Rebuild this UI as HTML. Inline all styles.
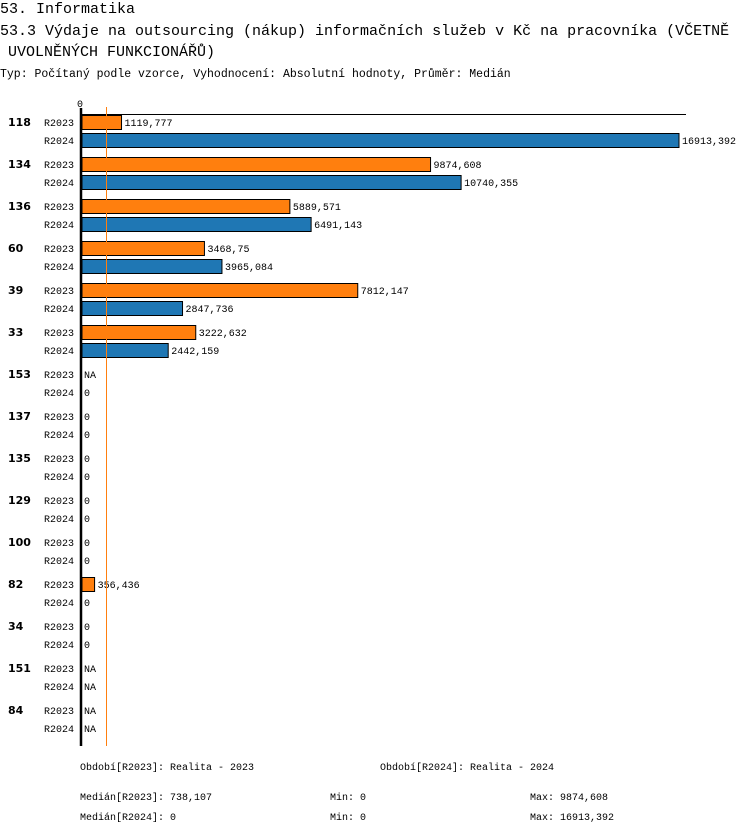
<!DOCTYPE html>
<html><head><meta charset="utf-8"><style>
body{margin:0;background:#fff;width:750px;height:834px;overflow:hidden}
svg text{font-family:"Liberation Mono","DejaVu Sans Mono",monospace;fill:#000}
</style></head><body>
<svg id="s" width="750" height="834" xmlns="http://www.w3.org/2000/svg">
<text x="0" y="13" font-size="15">53. Informatika</text>
<text x="0" y="35" font-size="15">53.3 Výdaje na outsourcing (nákup) informačních služeb v Kč na pracovníka (VČETNĚ</text>
<text x="8" y="56" font-size="15"> UVOLNĚNÝCH FUNKCIONÁŘŮ)</text>
<text x="0" y="77" font-size="11.5">Typ: Počítaný podle vzorce, Vyhodnocení: Absolutní hodnoty, Průměr: Medián</text>
<text x="77" y="107" font-size="10">0</text>
<line x1="81" y1="114.5" x2="686" y2="114.5" stroke="#000" stroke-width="1"/>
<g id="bars"></g>
<line x1="106.5" y1="107" x2="106.5" y2="746" stroke="#ff7f0e" stroke-width="1"/>
<line x1="81" y1="108" x2="81" y2="746" stroke="#000" stroke-width="2.5"/>
<text x="80" y="770" font-size="10">Období[R2023]: Realita - 2023</text>
<text x="380" y="770" font-size="10">Období[R2024]: Realita - 2024</text>
<text x="80" y="800" font-size="10">Medián[R2023]: 738,107</text>
<text x="330" y="800" font-size="10">Min: 0</text>
<text x="530" y="800" font-size="10">Max: 9874,608</text>
<text x="80" y="820" font-size="10">Medián[R2024]: 0</text>
<text x="330" y="820" font-size="10">Min: 0</text>
<text x="530" y="820" font-size="10">Max: 16913,392</text>
</svg>
<script>
var d=[["118",1119.777,16913.392],["134",9874.608,10740.355],["136",5889.571,6491.143],["60",3468.75,3965.084],["39",7812.147,2847.736],["33",3222.632,2442.159],["153",null,0],["137",0,0],["135",0,0],["129",0,0],["100",0,0],["82",356.436,0],["34",0,0],["151",null,null],["84",null,null]];
var k=597/16913.392,h='';
function f(v){return String(v).replace('.',',');}
d.forEach(function(r,g){
 var y0=114+42*g;
 h+='<text x="8" y="'+(y0+12)+'" font-size="11" font-weight="bold" style="font-family:\'DejaVu Sans\',sans-serif">'+r[0]+'</text>';
 [1,2].forEach(function(i){
  var y=y0+(i-1)*18, v=r[i];
  h+='<text x="44" y="'+(y+12)+'" font-size="10">R'+(i==1?'2023':'2024')+'</text>';
  if(v===null){h+='<text x="84" y="'+(y+12)+'" font-size="10">NA</text>';return;}
  var w=v*k;
  if(w>0){h+='<rect x="82" y="'+(y+1.5)+'" width="'+w+'" height="14" fill="'+(i==1?'#ff7f0e':'#1f77b4')+'" stroke="#000" stroke-width="1"/>';}
  h+='<text x="'+(84+(w>0?w+1:0))+'" y="'+(y+12)+'" font-size="10">'+f(v)+'</text>';
 });
});
document.getElementById('bars').innerHTML=h;
</script>
</body></html>
